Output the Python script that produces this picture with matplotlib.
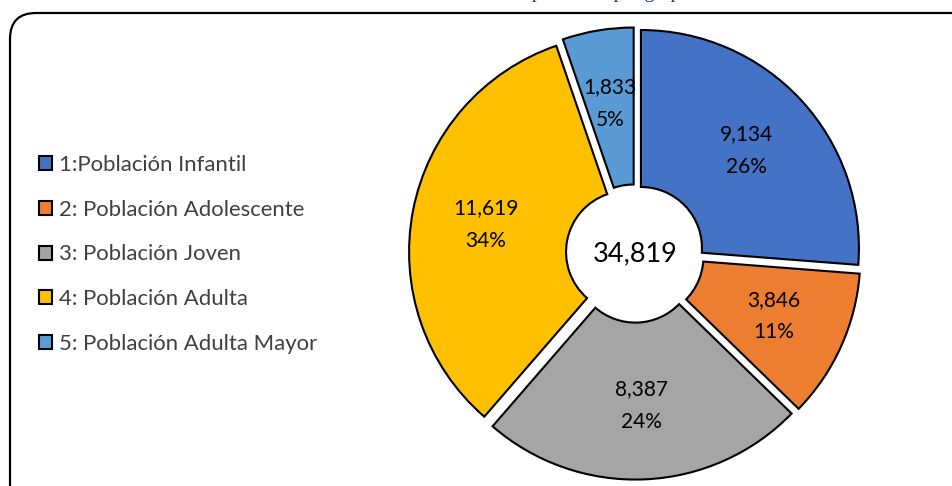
import matplotlib
matplotlib.use("Agg")
import matplotlib.pyplot as plt
from matplotlib.patches import FancyBboxPatch

# data
categories = ["1:Población Infantil", "2: Población Adolescente", "3: Población Joven",
              "4: Población Adulta", "5: Población Adulta Mayor"]
values = [9134, 3846, 8387, 11619, 1833]
pct_labels = ["26%", "11%", "24%", "34%", "5%"]
colors = ["#4472C4", "#ED7D31", "#A5A5A5", "#FFC000", "#5B9BD5"]
total = sum(values)
title = "Distribución de la población por grupos etarios"

plt.rcParams['font.family'] = ['Lato', 'DejaVu Sans']

W, H = 952, 486
fig = plt.figure(figsize=(W / 100, H / 100), dpi=100)

# background frame in pixel coords
bg = fig.add_axes([0, 0, 1, 1])
bg.set_xlim(0, W)
bg.set_ylim(H, 0)
bg.axis('off')
frame = FancyBboxPatch((10, 13), 980, 520, boxstyle="round,pad=0,rounding_size=26",
                       fc='white', ec='black', lw=1.6)
bg.add_patch(frame)

# title, mostly cut off above the picture
fig.text(0.6, 1 + 1.5 / H, title, ha='center', va='baseline',
         family='Liberation Serif', fontsize=14, color='#1F3864')

# doughnut
cx, cy, size = 635, 253.5, 480
ax = fig.add_axes([(cx - size / 2) / W, (H - cy - size / 2) / H, size / W, size / H])
R = size / 2
lim = R / 218.0
ax.set_aspect('equal')
ax.axis('off')

it = iter(range(len(values)))
def fmt(p):
    i = next(it)
    return f"{values[i]:,}\n{pct_labels[i]}"

wedges, texts, autotexts = ax.pie(
    values, colors=colors, startangle=90, counterclock=False,
    explode=[0.037] * len(values), autopct=fmt, pctdistance=0.66,
    wedgeprops=dict(width=0.72, edgecolor='black', linewidth=1.5),
    textprops=dict(fontsize=15, color='black', linespacing=1.8))
ax.set_xlim(-lim, lim)
ax.set_ylim(-lim, lim)

ax.text(0, 0, f"{total:,}", ha='center', va='center', fontsize=19.5, color='black')

# legend
leg = fig.legend(wedges, categories, loc='upper left', bbox_to_anchor=(30 / W, 1 - 146 / H),
                 frameon=False, handlelength=0.6, handleheight=0.6,
                 handletextpad=0.3, labelspacing=1.12, borderaxespad=0,
                 prop=dict(family='Lato', size=15.9))
for t in leg.get_texts():
    t.set_color('#404040')

fig.savefig("out.png", dpi=100)
